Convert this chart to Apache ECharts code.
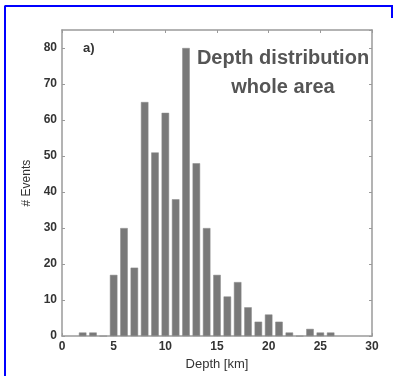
<!DOCTYPE html>
<html>
<head>
<meta charset="utf-8">
<script src="https://cdn.jsdelivr.net/npm/echarts@6/dist/echarts.min.js"></script>
<style>
  html, body { margin: 0; padding: 0; background: #fff; }
  #chart { width: 393px; height: 376px; }
</style>
</head>
<body>
<div id="chart"></div>
<script>
// Earthquake hypocentre depths, 1 km bins
const depthKm = [2, 3, 4, 5, 6, 7, 8, 9, 10, 11, 12, 13, 14, 15, 16, 17, 18, 19, 20, 21, 22, 23, 24, 25, 26];
const eventCounts = [1, 1, 0, 17, 30, 19, 65, 51, 62, 38, 80, 48, 30, 17, 11, 15, 8, 4, 6, 4, 1, 0, 2, 1, 1];
const xTicks = [0, 5, 10, 15, 20, 25, 30];
const yTicks = [0, 10, 20, 30, 40, 50, 60, 70, 80];

const frameColor = '#9a9a9a';
const labelFont = { color: '#333', fontSize: 12, fontWeight: 'bold', fontFamily: 'Liberation Sans, Arial, sans-serif' };

const chart = echarts.init(document.getElementById('chart'), null, { renderer: 'canvas' });

const axisCommon = {
  axisLine: { show: true, onZero: false, lineStyle: { color: frameColor, width: 1.5 } },
  axisTick: { show: true, inside: true, length: 3, lineStyle: { color: frameColor } },
  splitLine: { show: false }
};

chart.setOption({
  animation: false,
  grid: { left: 62, right: 21, top: 30, bottom: 38 },
  xAxis: [
    Object.assign({}, axisCommon, {
      type: 'value', min: xTicks[0], max: xTicks[xTicks.length - 1], interval: 5,
      position: 'bottom',
      name: 'Depth [km]', nameLocation: 'middle', nameGap: 17,
      nameTextStyle: { color: '#333', fontSize: 13, fontFamily: 'Liberation Sans, Arial, sans-serif' },
      axisLabel: Object.assign({ margin: 5 }, labelFont)
    }),
    Object.assign({}, axisCommon, {
      type: 'value', min: xTicks[0], max: xTicks[xTicks.length - 1], interval: 5,
      position: 'top', axisLabel: { show: false }
    })
  ],
  yAxis: [
    Object.assign({}, axisCommon, {
      type: 'value', min: yTicks[0], max: 85, interval: 10,
      position: 'left',
      name: '# Events', nameLocation: 'middle', nameGap: 26,
      nameTextStyle: { color: '#333', fontSize: 12, fontFamily: 'Liberation Sans, Arial, sans-serif' },
      axisLabel: Object.assign({ margin: 5, showMaxLabel: false }, labelFont)
    }),
    Object.assign({}, axisCommon, {
      type: 'value', min: yTicks[0], max: 85, interval: 10,
      position: 'right', axisLabel: { show: false }
    })
  ],
  series: [{
    type: 'bar',
    xAxisIndex: 0, yAxisIndex: 0,
    barWidth: 7.5,
    itemStyle: { color: '#797979', borderColor: '#8a8a8a', borderWidth: 0.5 },
    data: depthKm.map((d, i) => [d, eventCounts[i]])
  }],
  graphic: [
    // page frame
    { type: 'line', shape: { x1: 4.5, y1: 6, x2: 393, y2: 6 }, style: { stroke: '#0000ff', lineWidth: 2 } },
    { type: 'line', shape: { x1: 5, y1: 6, x2: 5, y2: 376 }, style: { stroke: '#0000ff', lineWidth: 2 } },
    { type: 'line', shape: { x1: 392, y1: 6, x2: 392, y2: 18 }, style: { stroke: '#0000ff', lineWidth: 2 } },
    {
      type: 'text', left: 83, top: 42,
      style: { text: 'a)', fill: '#333', font: 'bold 13px "Liberation Sans", Arial, sans-serif' }
    },
    {
      type: 'text', x: 283, y: 58,
      style: { text: 'Depth distribution', fill: '#555', textAlign: 'center', textVerticalAlign: 'middle',
        font: 'bold 20px "Liberation Sans Narrow", "Liberation Sans", Arial, sans-serif' }
    },
    {
      type: 'text', x: 283, y: 87,
      style: { text: 'whole area', fill: '#555', textAlign: 'center', textVerticalAlign: 'middle',
        font: 'bold 20px "Liberation Sans Narrow", "Liberation Sans", Arial, sans-serif' }
    }
  ]
});
</script>
</body>
</html>
